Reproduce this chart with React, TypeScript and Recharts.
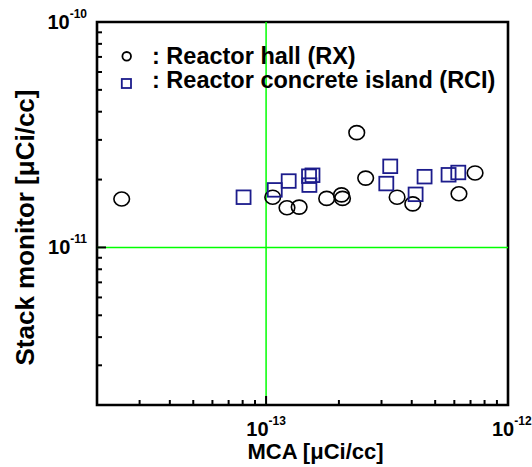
import React from 'react';
import {
  ScatterChart,
  Scatter,
  XAxis,
  YAxis,
  ReferenceLine,
  ReferenceArea
} from 'recharts';

// MCA (x) vs stack monitor (y), both in uCi/cc
const rxX = [2.53e-14, 1.065e-13, 1.22e-13, 1.37e-13, 1.78e-13, 2.05e-13, 2.07e-13, 2.37e-13, 2.58e-13, 3.48e-13, 4.04e-13, 6.27e-13, 7.31e-13];
const rxY = [1.64e-11, 1.67e-11, 1.5e-11, 1.51e-11, 1.65e-11, 1.71e-11, 1.65e-11, 3.23e-11, 2.03e-11, 1.67e-11, 1.56e-11, 1.73e-11, 2.14e-11];

const rciX = [8.07e-14, 1.086e-13, 1.24e-13, 1.505e-13, 1.555e-13, 1.51e-13, 3.26e-13, 3.14e-13, 4.15e-13, 4.52e-13, 5.68e-13, 6.23e-13];
const rciY = [1.67e-11, 1.8e-11, 1.97e-11, 2.07e-11, 2.09e-11, 1.89e-11, 2.29e-11, 1.92e-11, 1.72e-11, 2.06e-11, 2.1e-11, 2.15e-11];

const xTicks = [2e-14, 3e-14, 4e-14, 5e-14, 6e-14, 7e-14, 8e-14, 9e-14, 1e-13, 2e-13, 3e-13, 4e-13, 5e-13, 6e-13, 7e-13, 8e-13, 9e-13, 1e-12];
const yTicks = [2e-12, 3e-12, 4e-12, 5e-12, 6e-12, 7e-12, 8e-12, 9e-12, 1e-11, 2e-11, 3e-11, 4e-11, 5e-11, 6e-11, 7e-11, 8e-11, 9e-11, 1e-10];

const xDomain = [2e-14, 1e-12];
const yDomain = [2e-12, 1e-10];

const rxData = rxX.map((x, i) => ({ x, y: rxY[i] }));
const rciData = rciX.map((x, i) => ({ x, y: rciY[i] }));

const FONT = '"Liberation Sans", Arial, Helvetica, sans-serif';
const NAVY = '#1c1c8c';

const isMajor = (v: number) => {
  const l = Math.log10(v);
  return Math.abs(l - Math.round(l)) < 1e-6;
};

const XTick = (props: any) => {
  const { x, y, payload } = props;
  const major = isMajor(payload.value);
  const exp = Math.round(Math.log10(payload.value));
  const last = payload.value >= xDomain[1];
  return (
    <g>
      <line x1={x} y1={y} x2={x} y2={y - (major ? 9 : 5)} stroke="#000" strokeWidth={2} />
      {major && (
        <text
          x={last ? x - 16 : x}
          y={y + 31}
          textAnchor={last ? 'start' : 'middle'}
          fontFamily={FONT}
          fontWeight="bold"
          fontSize={20}
          fill="#000"
        >
          10<tspan dy={-11} fontSize={12}>{exp}</tspan>
        </text>
      )}
    </g>
  );
};

const YTick = (props: any) => {
  const { x, y, payload } = props;
  const major = isMajor(payload.value);
  const exp = Math.round(Math.log10(payload.value));
  return (
    <g>
      <line x1={x} y1={y} x2={x + (major ? 9 : 5)} y2={y} stroke="#000" strokeWidth={2} />
      {major && (
        <text
          x={x - 10}
          y={y + 7}
          textAnchor="end"
          fontFamily={FONT}
          fontWeight="bold"
          fontSize={20}
          fill="#000"
        >
          10<tspan dy={-11} fontSize={12}>{exp}</tspan>
        </text>
      )}
    </g>
  );
};

const CircleMark = (props: any) => (
  <ellipse cx={props.cx} cy={props.cy} rx={7.8} ry={7} fill="none" stroke="#000" strokeWidth={1.6} />
);

const SquareMark = (props: any) => (
  <rect x={props.cx - 7} y={props.cy - 6.8} width={14} height={13.6} fill="none" stroke={NAVY} strokeWidth={1.8} />
);

const LegendBox = () => (
  <svg
    width={420}
    height={60}
    style={{ position: 'absolute', left: 110, top: 38, pointerEvents: 'none' }}
  >
    <circle cx={16.7} cy={18.3} r={4.3} fill="none" stroke="#000" strokeWidth={1.8} />
    <text x={42} y={26} fontFamily={FONT} fontWeight="bold" fontSize={23.5} fill="#000">
      : Reactor hall (RX)
    </text>
    <rect x={11.8} y={41} width={9.2} height={9} fill="none" stroke={NAVY} strokeWidth={1.8} />
    <text x={42} y={50} fontFamily={FONT} fontWeight="bold" fontSize={23.5} fill="#000">
      : Reactor concrete island (RCI)
    </text>
  </svg>
);

const XTitle = (props: any) => {
  const { viewBox } = props;
  return (
    <text
      x={viewBox.x + viewBox.width / 2 + 13}
      y={viewBox.y + 54}
      textAnchor="middle"
      fontFamily={FONT}
      fontWeight="bold"
      fontSize={22}
      fill="#000"
    >
      MCA [μCi/cc]
    </text>
  );
};

const YTitle = (props: any) => {
  const { viewBox } = props;
  const cx = 34;
  const cy = viewBox.y + viewBox.height / 2 + 14;
  return (
    <text
      x={cx}
      y={cy}
      transform={`rotate(-90, ${cx}, ${cy})`}
      textAnchor="middle"
      fontFamily={FONT}
      fontWeight="bold"
      fontSize={26}
      fill="#000"
    >
      Stack monitor [μCi/cc]
    </text>
  );
};

export default function App() {
  return (
    <div style={{ position: 'absolute', left: 0, top: 0, width: 532, height: 467, background: '#fff' }}>
      <ScatterChart width={532} height={467} margin={{ top: 22, right: 24, bottom: 0, left: 0 }}>
        <XAxis
          type="number"
          dataKey="x"
          scale="log"
          domain={xDomain}
          allowDataOverflow
          ticks={xTicks}
          interval={0}
          tickSize={0}
          tickMargin={0}
          tickLine={false}
          axisLine={false}
          tick={<XTick />}
          height={62}
          label={<XTitle />}
        />
        <YAxis
          type="number"
          dataKey="y"
          scale="log"
          domain={yDomain}
          allowDataOverflow
          ticks={yTicks}
          interval={0}
          tickSize={0}
          tickMargin={0}
          tickLine={false}
          axisLine={false}
          tick={<YTick />}
          width={97}
          label={<YTitle />}
        />
        <ReferenceLine x={1e-13} stroke="#00ff00" strokeWidth={1.5} />
        <ReferenceLine y={1e-11} stroke="#00ff00" strokeWidth={1.5} />
        <ReferenceArea
          x1={xDomain[0]}
          x2={xDomain[1]}
          y1={yDomain[0]}
          y2={yDomain[1]}
          fill="none"
          fillOpacity={0}
          stroke="#000"
          strokeWidth={2.6}
          ifOverflow="visible"
        />
        <Scatter name="Reactor hall (RX)" data={rxData} shape={CircleMark} isAnimationActive={false} />
        <Scatter name="Reactor concrete island (RCI)" data={rciData} shape={SquareMark} isAnimationActive={false} />
      </ScatterChart>
      <LegendBox />
    </div>
  );
}
